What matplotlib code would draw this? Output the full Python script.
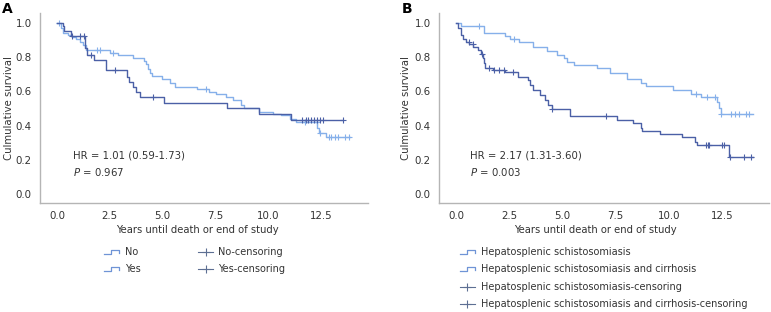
import numpy as np
import matplotlib
matplotlib.use("Agg")
import matplotlib.pyplot as plt
from matplotlib.lines import Line2D

plt.rcParams['font.family'] = ['DejaVu Sans']

# ---------------- Data ----------------
# Panel A
a_no_t = [0, 0.2, 0.3, 0.5, 0.7, 0.9, 1.1, 1.25, 1.37, 2.5, 2.9, 3.6, 4.1, 4.2, 4.3, 4.4, 4.5, 4.96,
          5.34, 5.57, 6.6, 7.2, 7.5, 8.0, 8.3, 8.7, 8.85, 9.55, 10.2, 10.6, 11.0, 11.3, 12.3, 12.4, 12.7]
a_no_s = [1.0, 0.97, 0.94, 0.93, 0.92, 0.906, 0.89, 0.87, 0.842, 0.826, 0.81, 0.795, 0.78, 0.76, 0.73,
          0.71, 0.69, 0.67, 0.65, 0.627, 0.614, 0.598, 0.583, 0.567, 0.55, 0.52, 0.50, 0.48, 0.47, 0.46,
          0.44, 0.42, 0.385, 0.357, 0.333]
a_no_end = 13.85
a_no_cens = [0.1, 1.9, 2.03, 2.67, 7.05, 11.74, 12.27, 12.42, 12.86, 12.97, 13.14, 13.3, 13.6, 13.8]

a_yes_t = [0, 0.27, 0.33, 0.65, 1.31, 1.44, 1.73, 2.3, 3.3, 3.4, 3.6, 3.75, 3.93, 5.05, 8.05, 9.55, 11.05]
a_yes_s = [1.0, 0.98, 0.953, 0.925, 0.855, 0.813, 0.784, 0.725, 0.686, 0.657, 0.628, 0.596, 0.567,
           0.532, 0.50, 0.468, 0.433]
a_yes_end = 13.5
a_yes_cens = [0.69, 1.09, 1.28, 1.59, 2.76, 4.53, 11.6, 11.75, 11.85, 12.0, 12.15, 12.3, 12.45, 12.55, 13.5]

# Panel B
b_hs_t = [0, 0.25, 1.3, 2.28, 2.52, 2.95, 3.61, 4.26, 4.74, 5.05, 5.21, 5.56, 6.61, 7.24, 8.03, 8.7,
          8.94, 10.2, 11.03, 11.5, 12.26, 12.35, 12.45]
b_hs_s = [1.0, 0.982, 0.943, 0.926, 0.905, 0.887, 0.862, 0.836, 0.813, 0.793, 0.774, 0.754, 0.735,
          0.71, 0.672, 0.647, 0.632, 0.608, 0.585, 0.565, 0.54, 0.50, 0.468]
b_hs_end = 13.93
b_hs_cens = [1.06, 2.71, 11.26, 11.79, 12.15, 12.45, 12.9, 13.1, 13.3, 13.64, 13.77]

b_ci_t = [0, 0.11, 0.22, 0.33, 0.46, 0.62, 0.81, 1.01, 1.17, 1.25, 1.3, 1.38, 1.73, 2.28, 2.91, 3.39,
          3.47, 3.63, 3.94, 4.18, 4.34, 4.5, 5.34, 7.56, 8.3, 8.7, 8.75, 9.57, 10.6, 11.23, 11.3, 12.82]
b_ci_s = [1.0, 0.969, 0.93, 0.906, 0.89, 0.875, 0.86, 0.842, 0.817, 0.793, 0.764, 0.739, 0.725, 0.715,
          0.686, 0.667, 0.637, 0.608, 0.579, 0.55, 0.52, 0.495, 0.456, 0.433, 0.413, 0.384, 0.37, 0.351,
          0.331, 0.306, 0.287, 0.214]
b_ci_end = 13.93
b_ci_cens = [0.6, 0.8, 1.2, 1.54, 1.8, 2.0, 2.26, 2.68, 4.5, 7.03, 11.74, 11.83, 11.9, 12.5, 12.6,
             12.86, 13.53, 13.85]

yticks = [0.0, 0.2, 0.4, 0.6, 0.8, 1.0]
xticks = [0.0, 2.5, 5.0, 7.5, 10.0, 12.5]

a_labels = ["No", "Yes", "No-censoring", "Yes-censoring"]
b_labels = ["Hepatosplenic schistosomiasis", "Hepatosplenic schistosomiasis and cirrhosis",
            "Hepatosplenic schistosomiasis-censoring", "Hepatosplenic schistosomiasis and cirrhosis-censoring"]

LIGHT = '#86b0ea'
DARK = '#4b60a6'
LEG_STEP = '#6f94d6'
CENS_LEG = '#5d6f93'
TXT = '#333333'
SPINE = '#b5b5b5'

W, H = 771, 312
fig = plt.figure(figsize=(W / 100, H / 100), dpi=100)


def fx(px):
    return px / W


def fy(py):
    return 1 - py / H


def km(ax, t, s, end, cens, color):
    t = np.asarray(t); s = np.asarray(s)
    tt = np.append(t, end); ss = np.append(s, s[-1])
    ax.step(tt, ss, where='post', color=color, lw=1.0)
    c = np.asarray(cens)
    idx = np.searchsorted(t, c, side='right') - 1
    ax.plot(c, s[idx], ls='none', marker='+', ms=4, mew=0.8, color=color)


def setup(ax, xl_pos, yl_pos):
    ax.set_xlim(-0.8, 14.7)
    ax.set_ylim(-0.053, 1.058)
    ax.set_xticks(xticks)
    ax.set_xticklabels([f"{v:.1f}" for v in xticks])
    ax.set_yticks(yticks)
    ax.set_yticklabels([f"{v:.1f}" for v in yticks])
    ax.tick_params(length=0, labelsize=7.4, colors=TXT, pad=6)
    for sp in ['top', 'right']:
        ax.spines[sp].set_visible(False)
    for sp in ['left', 'bottom']:
        ax.spines[sp].set_color(SPINE)
        ax.spines[sp].set_linewidth(1.0)
    ax.set_xlabel("Years until death or end of study", fontsize=7.2, color=TXT)
    ax.xaxis.set_label_coords(xl_pos, -0.115)
    ax.set_ylabel("Culmulative survival", fontsize=7.3, color=TXT, va='center')
    ax.yaxis.set_label_coords(yl_pos, 0.5)


def leg_step(x0, y0, color):
    xs = np.array([0, 7, 7, 15, 15]); ys = np.array([0, 0, 4, 4, 1.5])
    fig.add_artist(Line2D(fx(x0 + xs), fy(y0 + 2 - ys), color=color, lw=0.9))


def leg_cens(x0, y0, color):
    fig.add_artist(Line2D([fx(x0), fx(x0 + 15)], [fy(y0), fy(y0)], color=color, lw=0.8))
    fig.add_artist(Line2D([fx(x0 + 7.5)], [fy(y0)], marker='+', ms=6, mew=0.8, color=color, ls='none'))


LFS = 7.0

# Panel A
axA = fig.add_axes([fx(40), fy(203), fx(368 - 40), (203 - 13) / H])
setup(axA, (197 - 40) / 328, (9 - 40) / 328)
km(axA, a_no_t, a_no_s, a_no_end, a_no_cens, LIGHT)
km(axA, a_yes_t, a_yes_s, a_yes_end, a_yes_cens, DARK)
axA.text(0.75, 0.224, "HR = 1.01 (0.59-1.73)", fontsize=7.3, color=TXT, va='center')
axA.text(0.75, 0.13, "$\\it{P}$ = 0.967", fontsize=7.3, color=TXT, va='center')
fig.text(fx(2), fy(2), "A", fontsize=10, fontweight='bold', va='top', ha='left')

# Panel B
axB = fig.add_axes([fx(439), fy(203), fx(769 - 439), (203 - 13) / H])
setup(axB, (595 - 439) / 330, (406 - 439) / 330)
km(axB, b_hs_t, b_hs_s, b_hs_end, b_hs_cens, LIGHT)
km(axB, b_ci_t, b_ci_s, b_ci_end, b_ci_cens, DARK)
axB.text(0.67, 0.224, "HR = 2.17 (1.31-3.60)", fontsize=7.3, color=TXT, va='center')
axB.text(0.67, 0.13, "$\\it{P}$ = 0.003", fontsize=7.3, color=TXT, va='center')
fig.text(fx(402), fy(2), "B", fontsize=10, fontweight='bold', va='top', ha='left')

# Legend A
rows = [252, 269]
leg_step(104, rows[0], LEG_STEP); fig.text(fx(125), fy(rows[0]), a_labels[0], fontsize=LFS, color=TXT, va='center')
leg_step(104, rows[1], LEG_STEP); fig.text(fx(125), fy(rows[1]), a_labels[1], fontsize=LFS, color=TXT, va='center')
leg_cens(198, rows[0], CENS_LEG); fig.text(fx(218), fy(rows[0]), a_labels[2], fontsize=LFS, color=TXT, va='center')
leg_cens(198, rows[1], CENS_LEG); fig.text(fx(218), fy(rows[1]), a_labels[3], fontsize=LFS, color=TXT, va='center')

# Legend B
rowsB = [252, 269, 287, 304]
leg_step(460, rowsB[0], LEG_STEP)
leg_step(460, rowsB[1], LEG_STEP)
leg_cens(460, rowsB[2], CENS_LEG)
leg_cens(460, rowsB[3], CENS_LEG)
for r, lab in zip(rowsB, b_labels):
    fig.text(fx(481), fy(r), lab, fontsize=LFS, color=TXT, va='center')

fig.savefig("out.png", dpi=100)
